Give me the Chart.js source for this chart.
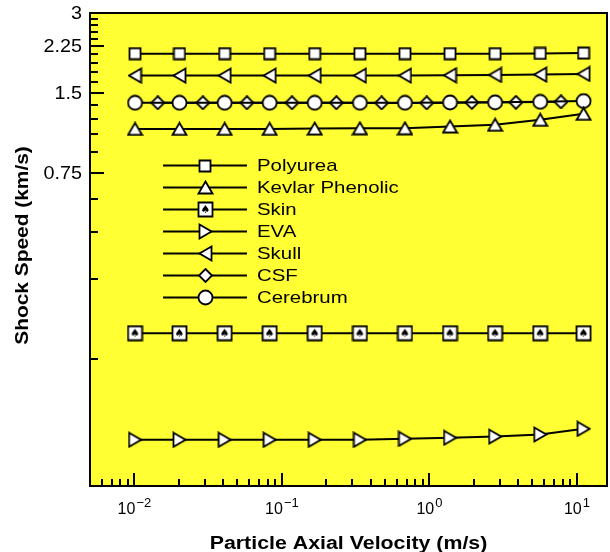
<!DOCTYPE html>
<html>
<head>
<meta charset="utf-8">
<script src="https://cdn.jsdelivr.net/npm/chart.js@4.4.1/dist/chart.umd.min.js"></script>
<style>
  html, body { margin: 0; padding: 0; background: #fff; }
  #wrap { width: 610px; height: 552px; }
</style>
</head>
<body>
<div id="wrap"><canvas id="c" width="610" height="552"></canvas></div>
<script>
// ---------------- data ----------------
const seriesNames = ['Polyurea', 'Kevlar Phenolic', 'Skin', 'EVA', 'Skull', 'CSF', 'Cerebrum'];
const xTitle = 'Particle Axial Velocity (m/s)';
const yTitle = 'Shock Speed (km/s)';
const velocity = [0.0101, 0.0202, 0.0409, 0.0826, 0.167, 0.338, 0.683, 1.38, 2.79, 5.64, 11.1];
const velocityCSF = [0.0144, 0.0291, 0.0579, 0.117, 0.234, 0.474, 0.959, 1.94, 3.86, 7.8];
const polyurea = [2.11, 2.11, 2.11, 2.11, 2.11, 2.11, 2.11, 2.11, 2.11, 2.115, 2.12];
const kevlar   = [1.10, 1.10, 1.10, 1.10, 1.103, 1.106, 1.106, 1.123, 1.14, 1.19, 1.253];
const skin     = [0.1876, 0.1876, 0.1876, 0.1876, 0.1876, 0.1876, 0.1876, 0.1876, 0.1876, 0.1876, 0.1876];
const eva      = [0.0746, 0.0746, 0.0746, 0.0746, 0.0746, 0.0746, 0.0752, 0.0759, 0.0767, 0.0781, 0.082];
const skull    = [1.745, 1.745, 1.745, 1.745, 1.745, 1.745, 1.745, 1.75, 1.755, 1.76, 1.77];
const csf      = [1.379, 1.379, 1.379, 1.379, 1.379, 1.378, 1.378, 1.383, 1.384, 1.39];
const cerebrum = [1.379, 1.379, 1.379, 1.379, 1.379, 1.379, 1.379, 1.383, 1.384, 1.39, 1.40];

// axis ticks
const xMajorTicks = [0.01, 0.1, 1, 10];
const xMajorExponents = ['\u22122', '\u22121', '0', '1'];
const xMinorTicks = [0.006, 0.007, 0.008, 0.009,
  0.02, 0.03, 0.04, 0.05, 0.06, 0.07, 0.08, 0.09,
  0.2, 0.3, 0.4, 0.5, 0.6, 0.7, 0.8, 0.9,
  2, 3, 4, 5, 6, 7, 8, 9];
const yTicks = [0.15, 0.3, 0.45, 0.6, 0.75, 0.9, 1.05, 1.2, 1.35, 1.5,
  1.65, 1.8, 1.95, 2.1, 2.25, 2.4, 2.55, 2.7, 2.85, 3];
const yMajorTicks = [0.75, 1.5, 2.25, 3];
const yMajorLabels = ['0.75', '1.5', '2.25', '3'];

// ---------------- markers ----------------
function mk(w, h, draw) {
  const c = document.createElement('canvas');
  c.width = w; c.height = h;
  const g = c.getContext('2d');
  g.fillStyle = '#fff'; g.strokeStyle = '#000'; g.lineWidth = 1.8; g.lineJoin = 'miter';
  draw(g, w, h);
  return c;
}
function poly(g, pts) {
  g.beginPath(); g.moveTo(pts[0][0], pts[0][1]);
  for (let i = 1; i < pts.length; i++) g.lineTo(pts[i][0], pts[i][1]);
  g.closePath(); g.fill(); g.stroke();
}
const mSquare = mk(14, 14, g => { g.beginPath(); g.rect(1.5, 1.5, 11, 11); g.fill(); g.stroke(); });
const mTriUp = mk(17, 15, g => poly(g, [[8.5, 1.5], [15.5, 13.5], [1.5, 13.5]]));
const mSkin = mk(17, 17, g => {
  g.beginPath(); g.rect(1.5, 1.5, 14, 14); g.fill(); g.stroke();
  g.fillStyle = '#000'; g.font = '11px "DejaVu Sans"'; g.textAlign = 'center'; g.textBaseline = 'middle';
  g.fillText('\u2660', 8.5, 9);
});
const mTriRight = mk(15, 17, g => poly(g, [[1.5, 1.5], [13.5, 8.5], [1.5, 15.5]]));
const mTriLeft = mk(15, 17, g => poly(g, [[13.5, 1.5], [1.5, 8.5], [13.5, 15.5]]));
const mDiamond = mk(15, 15, g => poly(g, [[7.5, 1], [14, 7.5], [7.5, 14], [1, 7.5]]));
const mCircle = mk(17, 17, g => { g.beginPath(); g.arc(8.5, 8.5, 7, 0, Math.PI * 2); g.fill(); g.stroke(); });

function pts(xs, ys) { return xs.map((x, i) => ({ x: x, y: ys[i] })); }
function ds(label, data, marker) {
  return {
    label: label, data: data, pointStyle: marker,
    pointRadius: 1, pointHoverRadius: 1, pointBorderWidth: 0,
    borderColor: '#000', backgroundColor: '#fff', borderWidth: 2, tension: 0, showLine: true
  };
}
const datasets = [
  ds(seriesNames[0], pts(velocity, polyurea), mSquare),
  ds(seriesNames[1], pts(velocity, kevlar), mTriUp),
  ds(seriesNames[2], pts(velocity, skin), mSkin),
  ds(seriesNames[3], pts(velocity, eva), mTriRight),
  ds(seriesNames[4], pts(velocity, skull), mTriLeft),
  ds(seriesNames[6], pts(velocity, cerebrum), mCircle),
  ds(seriesNames[5], pts(velocityCSF, csf), mDiamond)
];
const legendMarkers = [mSquare, mTriUp, mSkin, mTriRight, mTriLeft, mDiamond, mCircle];

const FONT = '"Liberation Sans", Arial, Helvetica, sans-serif';

// text drawn with a slight horizontal stretch (the reference uses a wide Helvetica)
function stext(ctx, str, x, y, font, sx, align) {
  ctx.font = font;
  const w = ctx.measureText(str).width * sx;
  const x0 = align === 'right' ? x - w : (align === 'center' ? x - w / 2 : x);
  ctx.save();
  ctx.translate(x0, y);
  ctx.scale(sx, 1);
  ctx.textAlign = 'left';
  ctx.fillText(str, 0, 0);
  ctx.restore();
  return w;
}

const decor = {
  id: 'decor',
  beforeDraw(chart) {
    const a = chart.chartArea, ctx = chart.ctx;
    ctx.save();
    ctx.fillStyle = '#ffff33';
    ctx.fillRect(a.left, a.top, a.right - a.left, a.bottom - a.top);
    ctx.restore();
  },
  afterDraw(chart) {
    const a = chart.chartArea, ctx = chart.ctx;
    const xs = chart.scales.x, ys = chart.scales.y;
    ctx.save();
    ctx.strokeStyle = '#000'; ctx.lineWidth = 2;
    // inward tick marks
    ctx.beginPath();
    yTicks.forEach(v => {
      const y = Math.round(ys.getPixelForValue(v));
      const len = yMajorTicks.includes(v) ? 14 : 8;
      ctx.moveTo(a.left, y); ctx.lineTo(a.left + len, y);
    });
    xMajorTicks.forEach(v => {
      const x = Math.round(xs.getPixelForValue(v));
      ctx.moveTo(x, a.bottom); ctx.lineTo(x, a.bottom - 13);
    });
    xMinorTicks.forEach(v => {
      const x = Math.round(xs.getPixelForValue(v));
      ctx.moveTo(x, a.bottom); ctx.lineTo(x, a.bottom - 7);
    });
    ctx.stroke();
    // frame
    ctx.strokeRect(a.left, a.top, a.right - a.left, a.bottom - a.top);

    ctx.fillStyle = '#000';
    // y tick labels
    ctx.textBaseline = 'middle';
    yMajorTicks.forEach((v, i) => {
      const y = ys.getPixelForValue(v);
      stext(ctx, yMajorLabels[i], a.left - 8, y + 1, '18px ' + FONT, 1.1, 'right');
    });
    // x tick labels with superscript exponents
    ctx.textBaseline = 'alphabetic';
    xMajorTicks.forEach((v, i) => {
      const x = xs.getPixelForValue(v);
      ctx.font = '16px ' + FONT;
      const wb = ctx.measureText('10').width;
      ctx.font = '13px ' + FONT;
      const we = ctx.measureText(xMajorExponents[i]).width;
      const x0 = x - (wb + we + 1) / 2;
      ctx.font = '16px ' + FONT;
      ctx.fillText('10', x0, a.bottom + 28);
      ctx.font = '13px ' + FONT;
      ctx.fillText(xMajorExponents[i], x0 + wb + 1, a.bottom + 21);
    });
    // axis titles
    stext(ctx, xTitle, (a.left + a.right) / 2, 549, 'bold 17.5px ' + FONT, 1.22, 'center');
    ctx.save();
    ctx.translate(28, (a.top + a.bottom) / 2 - 4);
    ctx.rotate(-Math.PI / 2);
    stext(ctx, yTitle, 0, 0, 'bold 19px ' + FONT, 1.1, 'center');
    ctx.restore();
    // legend
    const lx0 = a.left + 73, lx1 = a.left + 157, mx = a.left + 115, tx = a.left + 167;
    const ly0 = a.top + 151.5, gap = 22.1;
    ctx.textBaseline = 'middle';
    seriesNames.forEach((name, i) => {
      const y = Math.round(ly0 + i * gap) + 0.5;
      ctx.beginPath(); ctx.moveTo(lx0, y); ctx.lineTo(lx1, y); ctx.stroke();
      const m = legendMarkers[i];
      ctx.drawImage(m, Math.round(mx - m.width / 2), Math.round(y - m.height / 2));
      stext(ctx, name, tx, y + 1, '17px ' + FONT, 1.2, 'left');
    });
    ctx.restore();
  }
};

new Chart(document.getElementById('c'), {
  type: 'line',
  data: { datasets: datasets },
  options: {
    responsive: false,
    animation: false,
    events: [],
    layout: { padding: { top: 13, right: 3, left: 0, bottom: 0 } },
    plugins: { legend: { display: false }, tooltip: { enabled: false } },
    scales: {
      x: {
        type: 'logarithmic', position: 'bottom', min: 0.005, max: 16,
        grid: { display: false, drawTicks: false },
        border: { display: false },
        ticks: { display: false },
        afterFit: s => { s.height = 66; s.paddingLeft = 0; s.paddingRight = 0; },
        title: { display: false, text: xTitle }
      },
      y: {
        type: 'logarithmic', position: 'left', min: 0.05, max: 3,
        grid: { display: false, drawTicks: false },
        border: { display: false },
        afterBuildTicks: s => { s.ticks = yTicks.map(v => ({ value: v })); },
        afterFit: s => { s.width = 90; s.paddingTop = 0; s.paddingBottom = 0; },
        ticks: { display: false, autoSkip: false },
        title: { display: false, text: yTitle }
      }
    }
  },
  plugins: [decor]
});
</script>
</body>
</html>
